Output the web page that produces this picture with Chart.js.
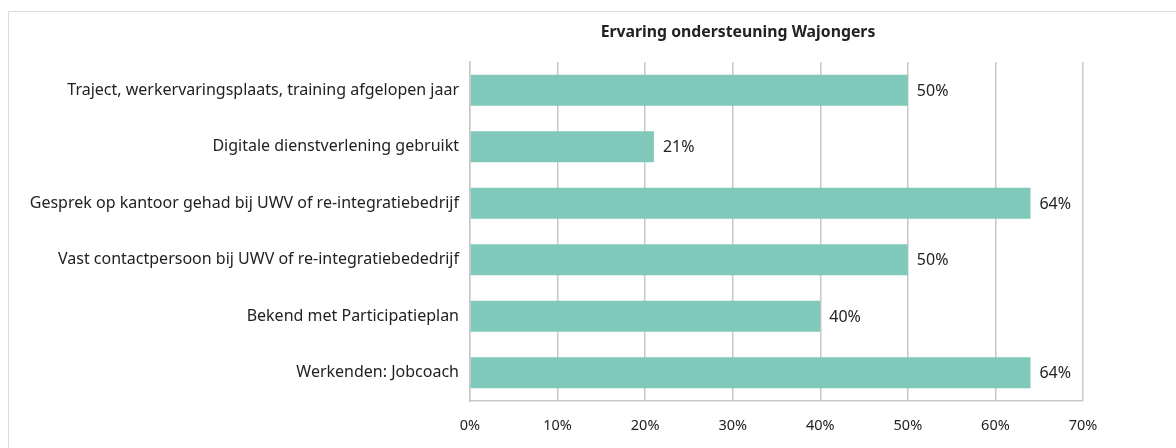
<!DOCTYPE html>
<html>
<head>
<meta charset="utf-8">
<script src="https://cdn.jsdelivr.net/npm/chart.js@4.4.1/dist/chart.umd.min.js"></script>
<style>
  html, body { margin: 0; padding: 0; background: #fff; overflow: hidden; }
  #frame { position: absolute; left: 8px; top: 11px; width: 1200px; height: 460px; border: 1px solid #dcdcdc; }
  #wrap { position: absolute; left: 0; top: 0; width: 1176px; height: 448px; }
</style>
</head>
<body>
<div id="frame"></div>
<div id="wrap"><canvas id="myChart" width="1176" height="448"></canvas></div>
<script>
var title = 'Ervaring ondersteuning Wajongers';
var categories = [
  'Traject, werkervaringsplaats, training afgelopen jaar',
  'Digitale dienstverlening gebruikt',
  'Gesprek op kantoor gehad bij UWV of re-integratiebedrijf',
  'Vast contactpersoon bij UWV of re-integratiebededrijf',
  'Bekend met Participatieplan',
  'Werkenden: Jobcoach'
];
var values = [50, 21, 64, 50, 40, 64];
var tickValues = [0, 10, 20, 30, 40, 50, 60, 70];

document.addEventListener('DOMContentLoaded', function () {
  var ctx = document.getElementById('myChart').getContext('2d');
  var font = "'Noto Sans', 'Open Sans', sans-serif";

  // value labels next to bars + title
  var labelsPlugin = {
    id: 'labels',
    afterDatasetsDraw: function (chart) {
      var c = chart.ctx;
      var meta = chart.getDatasetMeta(0);
      c.save();
      c.font = '16px ' + font;
      c.fillStyle = '#222';
      c.textBaseline = 'middle';
      c.textAlign = 'left';
      meta.data.forEach(function (bar, i) {
        c.fillText(values[i] + '%', bar.x + 9, bar.y + 1);
      });
      c.font = 'bold 15.8px ' + font;
      c.textAlign = 'center';
      c.fillText(title, 738, 32);
      c.restore();
    }
  };

  new Chart(ctx, {
    type: 'bar',
    data: {
      labels: categories,
      datasets: [{
        data: values,
        backgroundColor: '#80c8b9',
        categoryPercentage: 1,
        barPercentage: 0.55
      }]
    },
    options: {
      indexAxis: 'y',
      responsive: false,
      animation: false,
      layout: { padding: { top: 62, right: 93, bottom: 0, left: 0 } },
      plugins: { legend: { display: false }, tooltip: { enabled: false }, title: { display: false } },
      scales: {
        x: {
          min: 0,
          max: 70,
          afterBuildTicks: function (scale) {
            scale.ticks = tickValues.map(function (v) { return { value: v }; });
          },
          afterFit: function (scale) { scale.height = 47; },
          grid: { color: '#c8c8c8', lineWidth: 1.5, drawTicks: false },
          border: { color: '#c8c8c8', width: 1.5 },
          ticks: {
            padding: 16,
            color: '#222',
            font: { family: font, size: 14.5 },
            callback: function (v) { return v + '%'; }
          }
        },
        y: {
          afterFit: function (scale) { scale.width = 470; },
          grid: { display: false, drawTicks: false },
          border: { color: '#c8c8c8', width: 1.5 },
          ticks: {
            padding: 11,
            color: '#222',
            font: { family: font, size: 16 }
          }
        }
      }
    },
    plugins: [labelsPlugin]
  });
});
</script>
</body>
</html>
